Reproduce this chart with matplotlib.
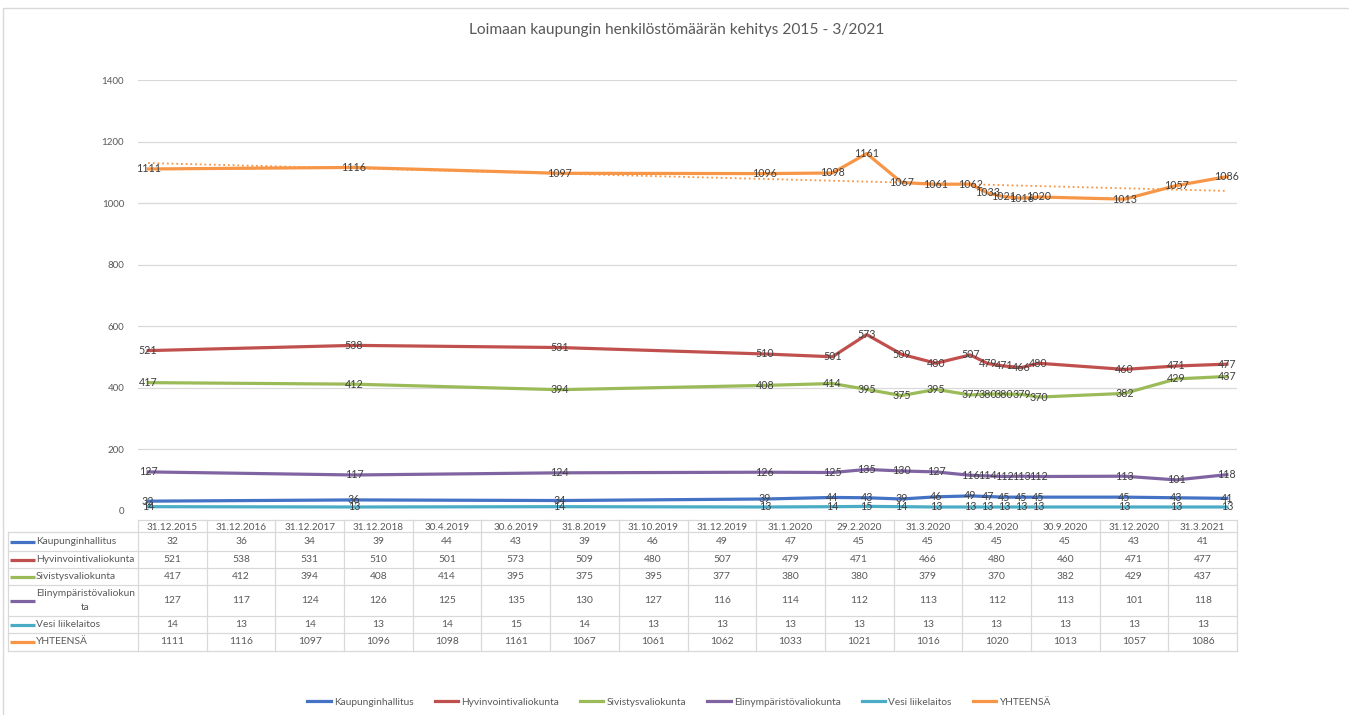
import matplotlib
matplotlib.use('Agg')
import matplotlib.pyplot as plt
import matplotlib.dates as mdates
from matplotlib.patches import Rectangle
import numpy as np
import pandas as pd

plt.rcParams['font.family'] = ['Lato', 'DejaVu Sans']

otsikko = 'Loimaan kaupungin henkilöstömäärän kehitys 2015 - 3/2021'

paivat = ['31.12.2015', '31.12.2016', '31.12.2017', '31.12.2018', '30.4.2019', '30.6.2019',
          '31.8.2019', '31.10.2019', '31.12.2019', '31.1.2020', '29.2.2020', '31.3.2020',
          '30.4.2020', '30.9.2020', '31.12.2020', '31.3.2021']

sarjat = ['Kaupunginhallitus', 'Hyvinvointivaliokunta', 'Sivistysvaliokunta',
          'Elinympäristövaliokunta', 'Vesi liikelaitos', 'YHTEENSÄ']
taulukon_nimet = ['Kaupunginhallitus', 'Hyvinvointivaliokunta', 'Sivistysvaliokunta',
                  'Elinympäristövaliokun\nta', 'Vesi liikelaitos', 'YHTEENSÄ']

kaupunginhallitus = [32, 36, 34, 39, 44, 43, 39, 46, 49, 47, 45, 45, 45, 45, 43, 41]
hyvinvointi = [521, 538, 531, 510, 501, 573, 509, 480, 507, 479, 471, 466, 480, 460, 471, 477]
sivistys = [417, 412, 394, 408, 414, 395, 375, 395, 377, 380, 380, 379, 370, 382, 429, 437]
elinymparisto = [127, 117, 124, 126, 125, 135, 130, 127, 116, 114, 112, 113, 112, 113, 101, 118]
vesi = [14, 13, 14, 13, 14, 15, 14, 13, 13, 13, 13, 13, 13, 13, 13, 13]
yhteensa = [1111, 1116, 1097, 1096, 1098, 1161, 1067, 1061, 1062, 1033, 1021, 1016, 1020, 1013, 1057, 1086]

arvot = [kaupunginhallitus, hyvinvointi, sivistys, elinymparisto, vesi, yhteensa]
varit = ['#4472C4', '#C0504D', '#9BBB59', '#8064A2', '#4BACC6', '#F79646']

W, H = 1349, 715
fig = plt.figure(figsize=(W / 100, H / 100), dpi=100)


def px_axes(x0, y0, x1, y1):
    return fig.add_axes([x0 / W, 1 - y1 / H, (x1 - x0) / W, (y1 - y0) / H])


# kaavio
ax = px_axes(138, 80, 1237, 511)
x = mdates.date2num(pd.to_datetime(paivat, format='%d.%m.%Y'))

for nimi, y, vari in zip(sarjat, arvot, varit):
    ax.plot(x, y, color=vari, lw=2.3, label=nimi, solid_joinstyle='round', zorder=3)

# lineaarinen trendi (YHTEENSÄ)
k, b = np.polyfit(x, yhteensa, 1)
xt = np.array([x[0], x[-1]])
ax.plot(xt, k * xt + b, color='#F79646', lw=1.3, ls=(0, (1, 1.6)), label='_nolegend_', zorder=2)

for y in arvot:
    for xi, v in zip(x, y):
        ax.text(xi, v, str(v), ha='center', va='center', fontsize=7.7, color='#404040', zorder=5)

ax.set_xlim(x[0] - 18, x[-1] + 18)
ax.set_ylim(0, 1400)
ax.set_yticks(range(0, 1401, 200))
ax.set_xticks([])
ax.grid(axis='y', color='#d9d9d9', lw=0.9)
ax.set_axisbelow(True)
for s in ax.spines.values():
    s.set_visible(False)
ax.tick_params(axis='y', length=0, pad=10, labelsize=7, labelcolor='#595959')

# taulukko
tab = fig.add_axes([0, 0, 1, 1])
tab.set_xlim(0, W)
tab.set_ylim(H, 0)
tab.axis('off')
tab.add_patch(Rectangle((3, 8), W, H, fill=False, ec='#d9d9d9', lw=1))

rivit = [520, 532, 551, 568, 585, 616, 633, 651]
sar_x0, sar_x1 = 138, 1237
lev = (sar_x1 - sar_x0) / len(paivat)
viiva = '#d9d9d9'
tekstivari = '#595959'

tab.plot([sar_x0, sar_x1], [rivit[0], rivit[0]], color=viiva, lw=0.9)
for r in rivit[1:]:
    tab.plot([8, sar_x1], [r, r], color=viiva, lw=0.9)
tab.plot([8, 8], [rivit[1], rivit[-1]], color=viiva, lw=0.9)
for i in range(len(paivat) + 1):
    xx = sar_x0 + i * lev
    tab.plot([xx, xx], [rivit[0], rivit[-1]], color=viiva, lw=0.9)

for i, p in enumerate(paivat):
    tab.text(sar_x0 + (i + 0.5) * lev, (rivit[0] + rivit[1]) / 2 + 1, p,
             ha='center', va='center', fontsize=7.2, color=tekstivari)

for j, (nimi, y, vari) in enumerate(zip(taulukon_nimet, arvot, varit)):
    yc = (rivit[j + 1] + rivit[j + 2]) / 2
    tab.plot([10, 35], [yc, yc], color=vari, lw=2.3, solid_capstyle='butt')
    tab.text(36, yc, nimi, ha='left', va='center', fontsize=7.4, color=tekstivari,
             multialignment='center', linespacing=1.6)
    for i, v in enumerate(y):
        tab.text(sar_x0 + (i + 0.5) * lev, yc, str(v), ha='center', va='center',
                 fontsize=7.4, color=tekstivari)

fig.text(677 / W, 1 - 30 / H, otsikko, ha='center', va='center', fontsize=11.2, color='#595959')

fig.legend(*ax.get_legend_handles_labels(), loc='center', bbox_to_anchor=(679 / W, 1 - 702 / H),
           ncol=6, frameon=False, fontsize=7.3, handlelength=2.3, handletextpad=0.3,
           columnspacing=2.1, labelcolor='#595959')

fig.savefig('out.png', dpi=100)
